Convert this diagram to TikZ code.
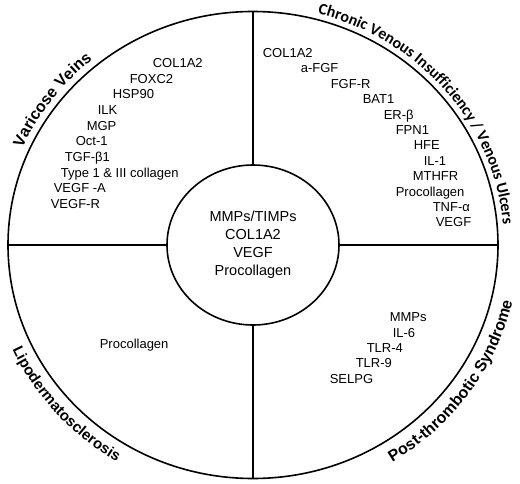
\documentclass[tikz,border=0pt]{standalone}
\usepackage{fontspec}
\setmainfont{Liberation Sans}
\newfontfamily\cvifont{Carlito}
\usetikzlibrary{shapes.geometric,decorations.text}

\newcommand\titlefont{\bfseries\fontsize{16}{16}\selectfont}
\newcommand\lipotitlefont{\bfseries\fontsize{15}{15}\selectfont}
\newcommand\cvititlefont{\cvifont\bfseries\fontsize{16}{16}\selectfont}

\begin{document}
\begin{tikzpicture}[
  x=1pt, y=1pt,
  line width=1.6pt,
  font=\fontsize{13}{15}\selectfont,
  gene/.style={anchor=base west,inner sep=0pt},
  ring/.style={draw,ellipse,inner sep=0pt,outer sep=0pt},
  arctitle/.style={decorate,
    decoration={text along path,text align=center,text={#1}}}
]
  % page frame, origin at the centre of the wheel
  \useasboundingbox (-253,-238) rectangle (267,245);

  % wheel and hub
  \node[ring,minimum width=490,minimum height=467] (rim) at (0,0) {};
  \node[ring,minimum width=172,minimum height=160,align=center,
        font=\fontsize{14.5}{18}\selectfont] (core) at (0,0)
    {MMPs/TIMPs\\COL1A2\\VEGF\\Procollagen};

  % spokes
  \draw (core.north) -- (rim.north);
  \draw (core.south) -- (rim.south);
  \draw (core.west) -- (rim.west);
  \draw (core.east) -- (rim.east);

  % quarter titles, set round the rim
  \path[arctitle={|\titlefont|Varicose Veins}]
    (188.5:252 and 240.5) arc[start angle=188.5,end angle=98.5,
                              x radius=252,y radius=240.5];
  \path[arctitle={|\cvititlefont|Chronic Venous Insufficiency / Venous Ulcers}]
    (96:251 and 239.5) arc[start angle=96,end angle=-17,
                           x radius=251,y radius=239.5];
  \path[arctitle={|\lipotitlefont|Lipodermatosclerosis}]
    (171:264 and 253) arc[start angle=171,end angle=271,
                          x radius=264,y radius=253];
  \path[arctitle={|\titlefont|Post-thrombotic Syndrome}]
    (-90:266 and 255) arc[start angle=-90,end angle=20,
                          x radius=266,y radius=255];

  % Varicose Veins
  \node[gene] (vvcol) at (-101,177.5) {COL1A2};
  \node[gene] (vvfox) at (-124,161.8) {FOXC2};
  \node[gene] (vvhsp) at (-141,146.2) {HSP90};
  \node[gene] (vvilk) at (-156,130.5) {ILK};
  \node[gene] (vvmgp) at (-167,114.8) {MGP};
  \node[gene] (vvoct) at (-178,99.2) {Oct-1};
  \node[gene] (vvtgf) at (-189,83.5) {TGF-β1};
  \node[gene] (vvtyp) at (-193,67.8) {Type 1 \& III collagen};
  \node[gene] (vvvga) at (-200,52.2) {VEGF -A};
  \node[gene] (vvvgr) at (-203,36.5) {VEGF-R};

  % Chronic Venous Insufficiency / Venous Ulcers
  \node[gene] (cvcol) at (9,187.5) {COL1A2};
  \node[gene] (cvafg) at (47,172.1) {a-FGF};
  \node[gene] (cvfgr) at (77,156.7) {FGF-R};
  \node[gene] (cvbat) at (109,141.3) {BAT1};
  \node[gene] (cverb) at (130,125.9) {ER-β};
  \node[gene] (cvfpn) at (142,110.5) {FPN1};
  \node[gene] (cvhfe) at (160,95.1) {HFE};
  \node[gene] (cvil) at (170,79.7) {IL-1};
  \node[gene] (cvmth) at (159,64.3) {MTHFR};
  \node[gene] (cvpro) at (142,48.9) {Procollagen};
  \node[gene] (cvtnf) at (179,33.5) {TNF-α};
  \node[gene] (cvvgf) at (182,18.1) {VEGF};

  % Lipodermatosclerosis
  \node[gene] (lipro) at (-154,-103.5) {Procollagen};

  % Post-thrombotic Syndrome
  \node[gene] (ptmmp) at (136,-76.5) {MMPs};
  \node[gene] (ptil) at (139,-92.5) {IL-6};
  \node[gene] (pttlf) at (113,-107.5) {TLR-4};
  \node[gene] (pttln) at (102,-122.5) {TLR-9};
  \node[gene] (ptsel) at (76,-138.5) {SELPG};
\end{tikzpicture}
\end{document}
